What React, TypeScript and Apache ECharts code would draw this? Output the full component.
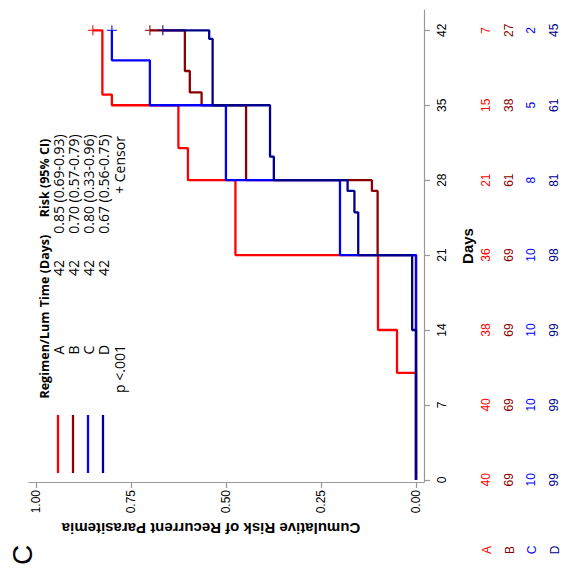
import React, { useEffect, useRef } from "react";
import * as echarts from "echarts";

// ---- data ----
const dayTicks = [0, 7, 14, 21, 28, 35, 42];
const riskTicks = [0, 0.25, 0.5, 0.75, 1];
const groups = ["A", "B", "C", "D"];
const colors = ["#FF0000", "#8B0000", "#0000FF", "#00008B"];

const atRiskA = [40, 40, 38, 36, 21, 15, 7];
const atRiskB = [69, 69, 69, 69, 61, 38, 27];
const atRiskC = [10, 10, 10, 10, 8, 5, 2];
const atRiskD = [99, 99, 99, 98, 81, 61, 45];

const timesA = [10, 14, 21, 28, 31, 35, 36, 42];
const riskA = [0.05, 0.1, 0.475, 0.6, 0.625, 0.8, 0.825, 0.85];
const timesB = [21, 27, 28, 35, 36.2, 38.2, 42];
const riskB = [0.101, 0.116, 0.447, 0.564, 0.595, 0.608, 0.7];
const timesC = [21, 28, 35, 39.2];
const riskC = [0.2, 0.5, 0.7, 0.8];
const timesD = [14, 21, 25, 27, 28, 30.2, 35, 41.2, 42];
const riskD = [0.0101, 0.152, 0.162, 0.18, 0.374, 0.384, 0.535, 0.544, 0.666];

const censorDay = 42;
const censorRisk = [0.85, 0.7, 0.8, 0.666];

const legendTimes = ["42", "42", "42", "42"];
const legendRisks = [
  "0.85 (0.69-0.93)",
  "0.70 (0.57-0.79)",
  "0.80 (0.33-0.96)",
  "0.67 (0.56-0.75)",
];
const pValueText = "p <.001";
const censorText = "+ Censor";

const allTimes = [timesA, timesB, timesC, timesD];
const allRisks = [riskA, riskB, riskC, riskD];
const allAtRisk = [atRiskA, atRiskB, atRiskC, atRiskD];

function stepPoints(times: number[], risks: number[], end: number) {
  const pts: number[][] = [[0, 0]];
  let prev = 0;
  times.forEach((t, i) => {
    pts.push([prev, t]);
    pts.push([risks[i], t]);
    prev = risks[i];
  });
  if (times[times.length - 1] < end) pts.push([prev, end]);
  return pts;
}

const AX = "Liberation Sans, Arial, sans-serif";
const LG = "Open Sans, sans-serif";
const LGS = 14;
const LGH = 12.5;

function vtext(x: number, y: number, text: string, size: number, color = "#000", weight = "normal", family = LG, rot = Math.PI / 2) {
  return {
    type: "text",
    x,
    y,
    rotation: rot,
    silent: true,
    style: {
      text,
      fill: color,
      fontSize: size,
      fontFamily: family,
      fontWeight: weight,
      align: "center",
      verticalAlign: "middle",
      textAlign: "center",
      textVerticalAlign: "middle",
    },
  };
}

export default function App() {
  const ref = useRef<HTMLDivElement>(null);
  useEffect(() => {
    if (!ref.current) return;
    const chart = echarts.init(ref.current, undefined, { renderer: "svg" });

    const colCenters = [487, 510, 532, 555];
    const axisX = 424;

    const riskYAxes = groups.map((g, gi) => ({
      type: "value",
      position: "right",
      min: -0.2,
      max: 43.9,
      offset: colCenters[gi] - axisX - 7,
      axisLine: { show: false, onZero: false },
      axisTick: { show: false },
      splitLine: { show: false },
      axisLabel: {
        customValues: dayTicks,
        rotate: 90,
        margin: 0,
        color: colors[gi],
        fontSize: 12,
        fontFamily: AX,
        formatter: (v: number) => {
          const idx = dayTicks.indexOf(Math.round(v));
          return idx >= 0 ? String(allAtRisk[gi][idx]) : "";
        },
      },
    }));

    const lineSeries = groups.map((g, gi) => ({
      type: "line",
      name: g,
      data: stepPoints(allTimes[gi], allRisks[gi], censorDay),
      symbol: "none",
      lineStyle: { color: colors[gi], width: 2.3 },
      itemStyle: { color: colors[gi] },
      z: 2 + gi,
    }));

    const censorSeries = groups.map((g, gi) => ({
      type: "scatter",
      name: g + " censor",
      data: [[censorRisk[gi], censorDay]],
      symbol: "path://M0,5L10,5M5,0L5,10",
      symbolSize: 10,
      itemStyle: { color: colors[gi], borderColor: colors[gi], borderWidth: 1.3 },
      z: 10,
    }));

    const legendLineX = [58, 73, 88, 103];
    const graphics: any[] = [];
    groups.forEach((g, gi) => {
      graphics.push({
        type: "line",
        silent: true,
        shape: { x1: legendLineX[gi], y1: 415, x2: legendLineX[gi], y2: 473 },
        style: { stroke: colors[gi], lineWidth: 2.3 },
      });
      graphics.push(vtext(legendLineX[gi], 350, g, LGS));
      graphics.push(vtext(legendLineX[gi], 268, legendTimes[gi], LGS));
      graphics.push(vtext(legendLineX[gi], 184, legendRisks[gi], LGS));
      graphics.push(vtext(colCenters[gi], 550, g, 12, colors[gi], "normal", AX));
    });
    graphics.push(vtext(44, 355, "Regimen/Lum", LGH, "#000", "bold"));
    graphics.push(vtext(44, 271, "Time (Days)", LGH, "#000", "bold"));
    graphics.push(vtext(44, 178, "Risk (95% CI)", LGH, "#000", "bold"));
    graphics.push(vtext(119, 369, pValueText, LGS));
    graphics.push(vtext(119, 165, censorText, LGS));
    graphics.push(vtext(467, 246, "Days", 15, "#000", "bold", AX));
    graphics.push(vtext(211, 528, "Cumulative Risk of Recurrent Parasitemia", 15, "#000", "bold", AX, Math.PI));
    graphics.push(vtext(22, 555, "C", 28, "#000", "normal", AX));

    chart.setOption({
      animation: false,
      backgroundColor: "#fff",
      grid: { left: 29, top: 10, right: 565 - 424, bottom: 581 - 482 },
      xAxis: {
        type: "value",
        inverse: true,
        min: -0.021,
        max: 1.018,
        axisLine: { onZero: false, lineStyle: { color: "#999", width: 1.2 } },
        axisTick: { customValues: riskTicks, length: 6, lineStyle: { color: "#999", width: 1.2 } },
        axisLabel: {
          customValues: riskTicks,
          formatter: (v: number) => v.toFixed(2),
          rotate: 90,
          margin: 8,
          color: "#000",
          fontSize: 12,
          fontFamily: AX,
        },
        splitLine: { show: false },
      },
      yAxis: [
        {
          type: "value",
          position: "right",
          min: -0.2,
          max: 43.9,
          axisLine: { onZero: false, lineStyle: { color: "#999", width: 1.2 } },
          axisTick: { customValues: dayTicks, length: 6, lineStyle: { color: "#999", width: 1.2 } },
          axisLabel: {
            customValues: dayTicks,
            rotate: 90,
            margin: 12,
            color: "#000",
            fontSize: 12,
            fontFamily: AX,
          },
          splitLine: { show: false },
        },
        ...riskYAxes,
      ],
      series: [...lineSeries, ...censorSeries],
      graphic: graphics,
    });

    return () => chart.dispose();
  }, []);

  return (
    <div
      ref={ref}
      style={{ position: "absolute", left: 0, top: 0, width: 565, height: 581, background: "#fff" }}
    />
  );
}
